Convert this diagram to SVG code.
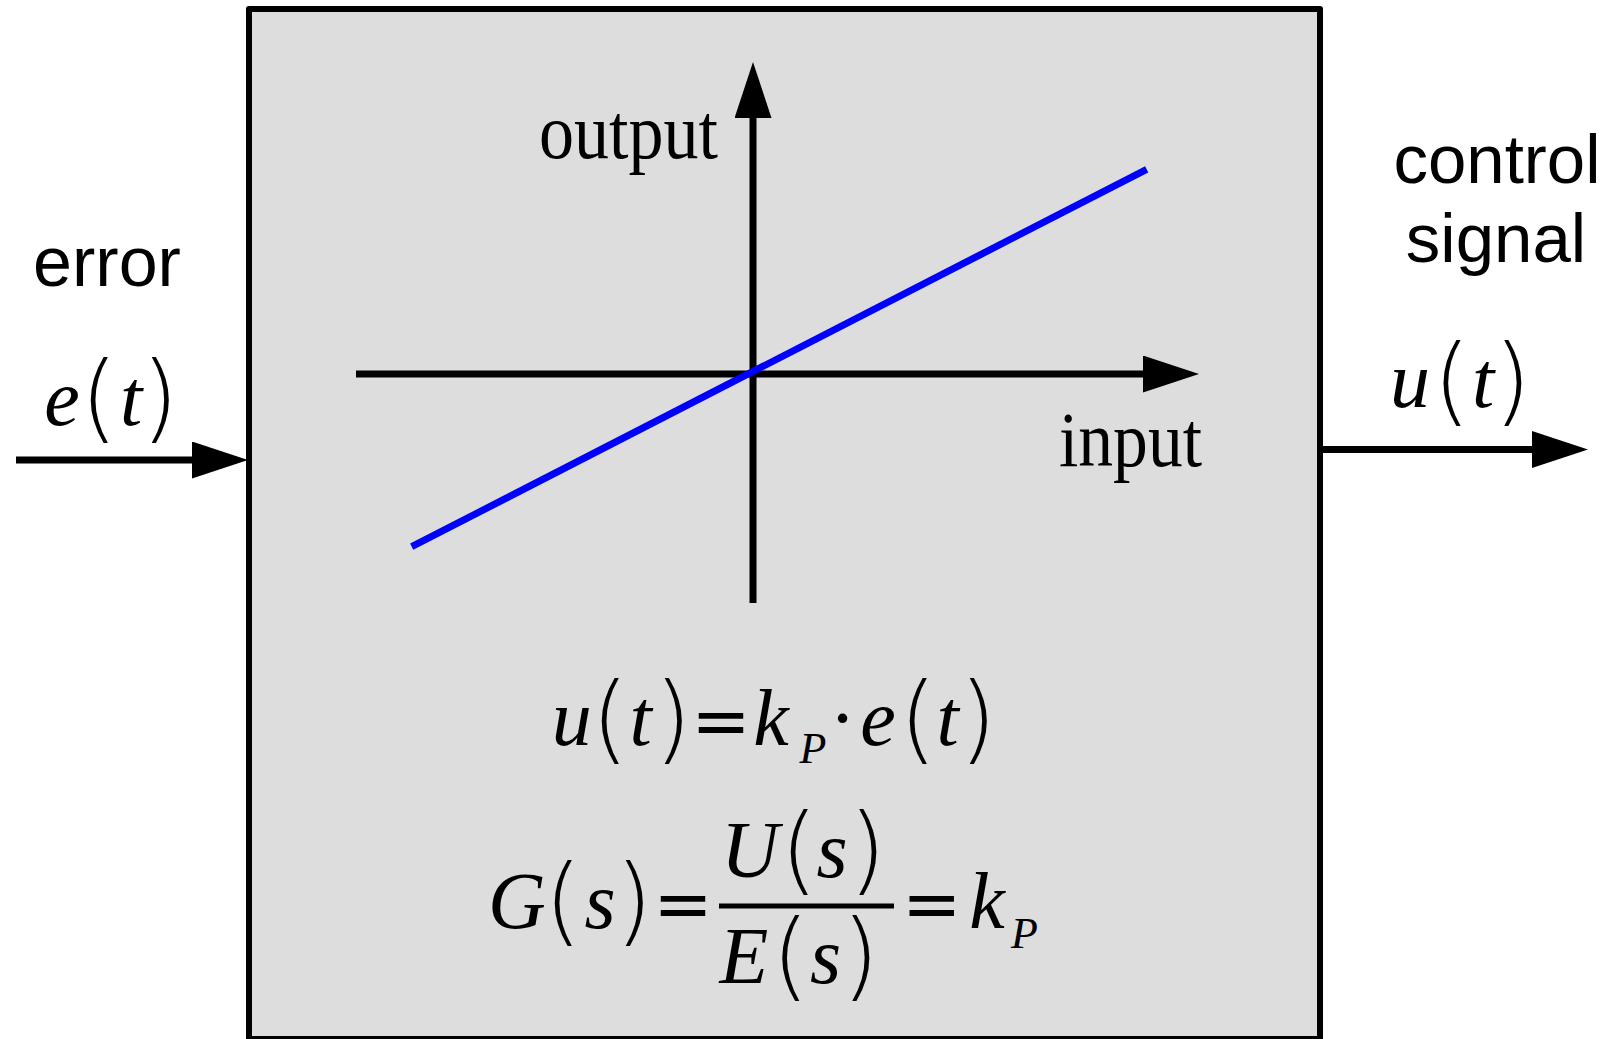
<svg xmlns="http://www.w3.org/2000/svg" width="1608" height="1039" viewBox="0 0 1608 1039">
<style>
.sans{font-family:"Liberation Sans",Arial,sans-serif;fill:#000}
.lbl{font-family:"Liberation Serif","Times New Roman",serif;fill:#000}
.m{font-family:"Liberation Serif","Times New Roman",serif;font-style:italic;font-size:80px;fill:#000;text-anchor:middle}
.m .o{font-style:normal}
.m .eq{font-family:"DejaVu Sans",sans-serif;font-style:normal;font-size:71px}
.m .sub{font-size:44px}
.m .p{font-family:"DejaVu Sans",sans-serif;font-weight:200;font-style:normal;font-size:96px}
.ax{stroke:#000;stroke-width:7;fill:none}
</style>
<defs>
<marker id="ah" viewBox="0 0 56 37" refX="0" refY="18.5" markerWidth="56" markerHeight="37" markerUnits="userSpaceOnUse" orient="auto">
<path d="M0,0 L56,18.5 L0,37 Z" fill="#000"/>
</marker>
</defs>
<g id="controller">
<rect x="249" y="9" width="1071" height="1030" fill="#dddddd" stroke="#000" stroke-width="6" stroke-linejoin="round"/>
<g id="graph">
<line class="ax" x1="356" y1="374" x2="1143" y2="374" marker-end="url(#ah)"/>
<line class="ax" x1="753" y1="603" x2="753" y2="118" marker-end="url(#ah)"/>
<line x1="411.7" y1="546.7" x2="1146.7" y2="169.3" stroke="#0000ff" stroke-width="7"/>
<text class="lbl" x="539" y="158" font-size="78" textLength="179" lengthAdjust="spacingAndGlyphs">output</text>
<text class="lbl" x="1059" y="466" font-size="78" textLength="143" lengthAdjust="spacingAndGlyphs">input</text>
</g>
<text id="eq1" class="m"><tspan x="571.7" y="745">u</tspan><tspan class="p" x="610" y="751">(</tspan><tspan x="640.5" y="745">t</tspan><tspan class="p" x="673" y="751">)</tspan><tspan class="eq" x="721" y="745">=</tspan><tspan x="771" y="745">k</tspan><tspan class="sub" x="813" y="763">P</tspan><tspan class="o" x="842.5" y="745">·</tspan><tspan x="878" y="745">e</tspan><tspan class="p" x="918" y="751">(</tspan><tspan x="947.5" y="745">t</tspan><tspan class="p" x="978" y="751">)</tspan></text>
<g id="eq2">
<text class="m"><tspan x="517" y="928">G</tspan><tspan class="p" x="563" y="933">(</tspan><tspan x="600" y="928">s</tspan><tspan class="p" x="634" y="933">)</tspan><tspan class="eq" x="683" y="928">=</tspan><tspan class="eq" x="931.7" y="928">=</tspan><tspan x="987" y="928">k</tspan><tspan class="sub" x="1024.5" y="948">P</tspan></text>
<text class="m"><tspan x="750" y="877">U</tspan><tspan class="p" x="799" y="882">(</tspan><tspan x="832" y="877">s</tspan><tspan class="p" x="867.5" y="882">)</tspan></text>
<line x1="719" y1="906" x2="894" y2="906" stroke="#000" stroke-width="5"/>
<text class="m"><tspan x="744" y="983">E</tspan><tspan class="p" x="790.5" y="988">(</tspan><tspan x="825.5" y="983">s</tspan><tspan class="p" x="860.5" y="988">)</tspan></text>
</g>
</g>
<g id="input-label">
<text class="sans" x="107" y="286" font-size="70" text-anchor="middle">error</text>
<text class="m"><tspan x="62" y="425">e</tspan><tspan class="p" x="99" y="430">(</tspan><tspan x="131" y="425">t</tspan><tspan class="p" x="160" y="430">)</tspan></text>
</g>
<g id="output-label">
<text class="sans" x="1497" y="183" font-size="69" text-anchor="middle">control</text>
<text class="sans" x="1496" y="262" font-size="69" text-anchor="middle">signal</text>
<text class="m"><tspan x="1410" y="407">u</tspan><tspan class="p" x="1451.7" y="413">(</tspan><tspan x="1483" y="407">t</tspan><tspan class="p" x="1512.5" y="413">)</tspan></text>
</g>
<g id="connectors">
<line class="ax" x1="16" y1="460" x2="192" y2="460" marker-end="url(#ah)"/>
<line class="ax" x1="1320" y1="449.5" x2="1532" y2="449.5" marker-end="url(#ah)"/>
</g>
</svg>
